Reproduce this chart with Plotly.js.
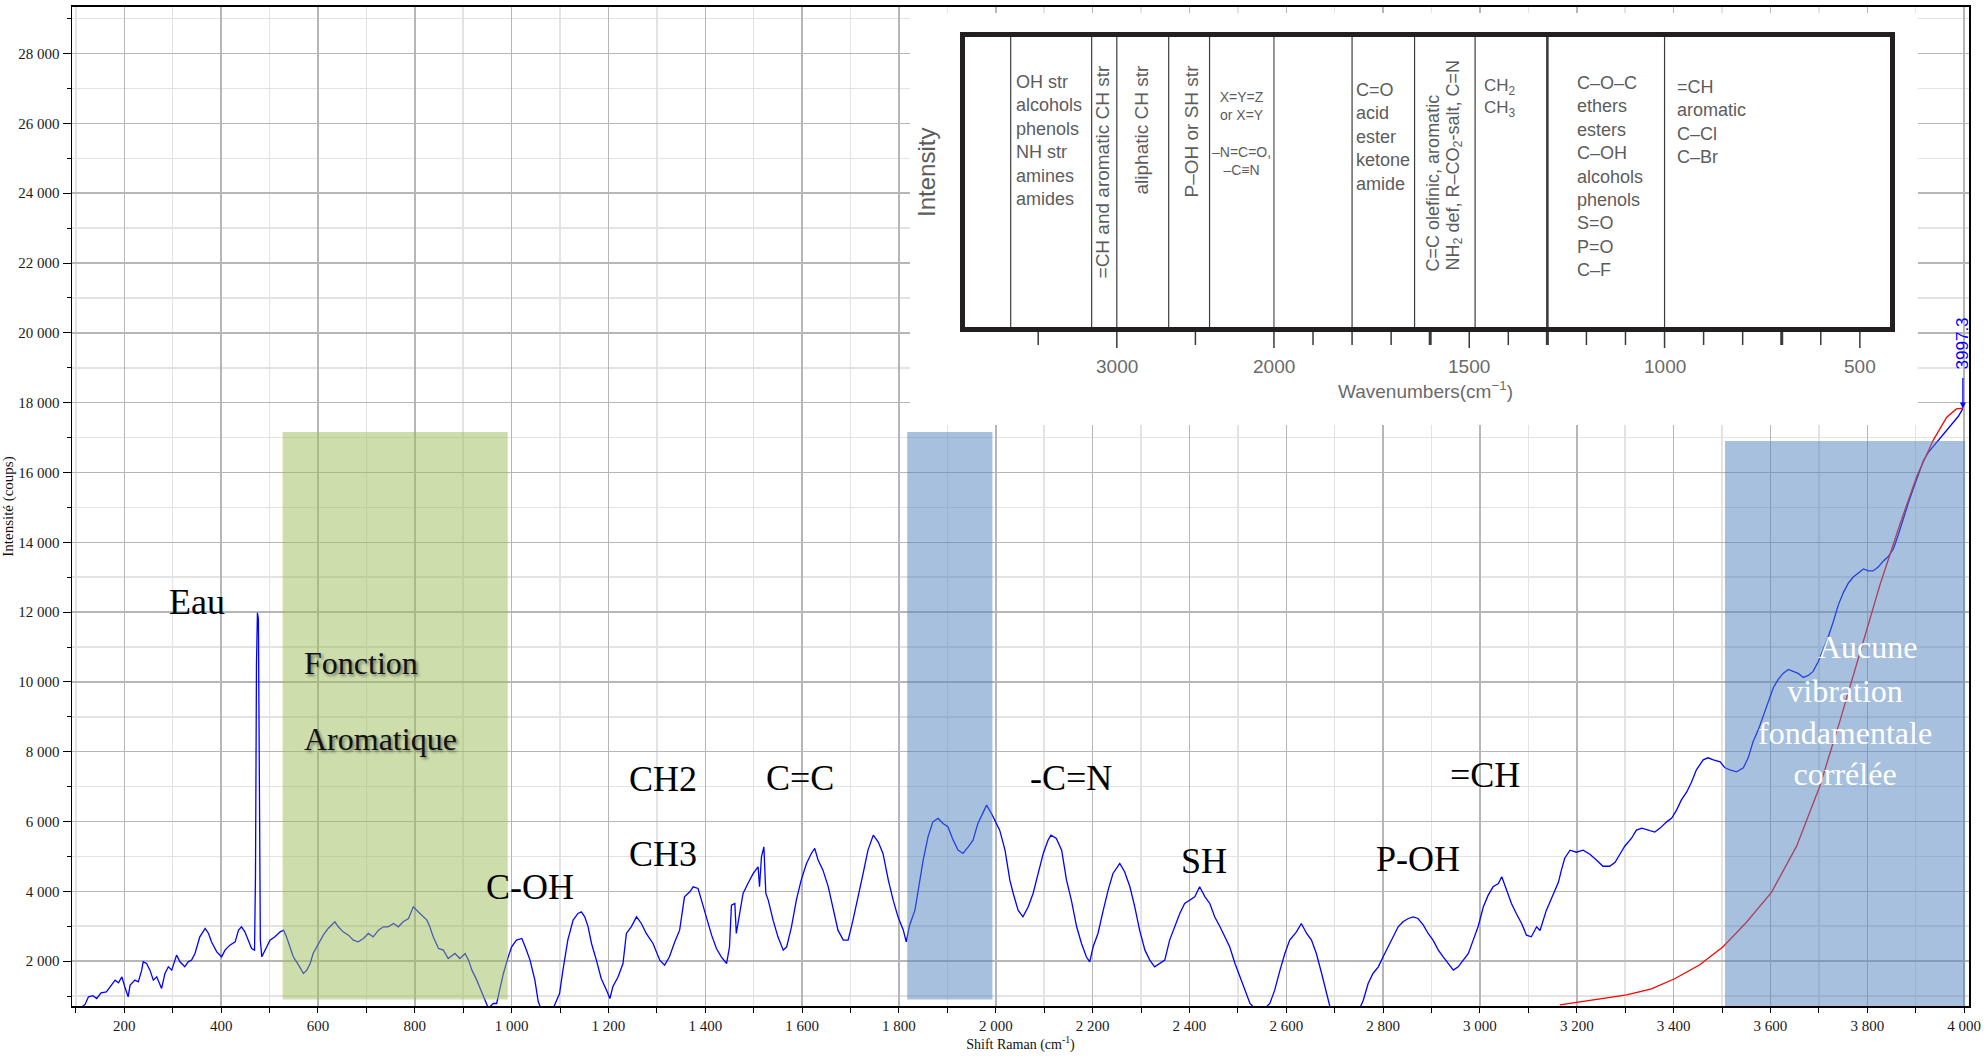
<!DOCTYPE html>
<html>
<head>
<meta charset="utf-8">
<script src="https://cdn.plot.ly/plotly-3.0.1.min.js"></script>
<style>
  html, body { margin: 0; padding: 0; background: #ffffff; }
  #chart { width: 1986px; height: 1057px; }
</style>
</head>
<body>
<div id="chart"></div>
<script>
// ---- Raman spectrum: shift (cm-1) and intensity (counts) ----
const ramanShift = [
  100,112,119,126,135,143,152,163,172,181,
  188,195,201,208,212,222,229,236,239,246,
  253,260,267,277,284,291,298,308,315,325,
  332,339,346,356,367,374,380,391,401,408,
  418,429,436,442,449,456,463,469,471,473,
  475,477,479,481,484,491,501,511,522,529,
  535,542,549,560,570,577,584,590,601,611,
  621,635,642,652,663,673,683,694,704,714,
  725,735,745,756,766,776,787,797,807,818,
  825,831,838,849,859,869,883,893,904,911,
  918,928,935,945,952,962,969,976,983,993,
  1000,1010,1021,1028,1038,1048,1055,1062,1080,1093,
  1099,1106,1116,1127,1137,1144,1151,1158,1165,1175,
  1185,1196,1203,1209,1220,1230,1237,1247,1258,1268,
  1278,1292,1306,1316,1326,1337,1347,1357,1368,1375,
  1385,1392,1402,1413,1423,1433,1444,1450,1454,1461,
  1464,1471,1478,1488,1499,1509,1512,1516,1521,1525,
  1530,1540,1550,1561,1568,1578,1588,1598,1609,1619,
  1626,1633,1643,1654,1664,1674,1685,1695,1705,1716,
  1726,1736,1747,1757,1767,1778,1788,1798,1809,1815,
  1822,1833,1843,1850,1860,1870,1881,1891,1901,1912,
  1922,1932,1943,1953,1963,1974,1981,1991,2001,2008,
  2019,2029,2036,2046,2056,2067,2077,2087,2098,2108,
  2114,2125,2136,2146,2156,2167,2177,2187,2194,2201,
  2211,2222,2232,2242,2256,2266,2277,2287,2297,2308,
  2318,2328,2339,2349,2359,2370,2380,2390,2401,2411,
  2421,2432,2442,2452,2463,2473,2483,2494,2504,2514,
  2525,2535,2552,2566,2576,2587,2597,2607,2621,2631,
  2642,2652,2662,2673,2683,2690,2720,2750,2759,2769,
  2779,2790,2800,2810,2821,2831,2841,2852,2862,2872,
  2883,2893,2903,2914,2924,2934,2945,2955,2965,2976,
  2986,2996,3007,3017,3027,3038,3045,3055,3065,3075,
  3086,3096,3106,3117,3124,3137,3151,3162,3168,3175,
  3186,3199,3213,3227,3241,3254,3268,3279,3289,3299,
  3313,3323,3334,3347,3361,3372,3385,3396,3406,3416,
  3427,3437,3447,3461,3471,3482,3496,3506,3516,3530,
  3544,3554,3564,3575,3585,3595,3606,3616,3626,3637,
  3647,3657,3668,3678,3688,3699,3709,3719,3730,3740,
  3750,3761,3771,3781,3792,3802,3812,3823,3833,3843,
  3854,3864,3874,3885,3895,3905,3916,3926,3936,3947,
  3957,3967,3978,3988,3997.3
];
const intensity = [
  560,700,760,978,1010,930,1090,1121,1280,1456,
  1380,1551,1265,978,1312,1456,1408,1742,1981,1933,
  1742,1456,1551,1217,1647,1838,1742,2172,1981,1838,
  1981,2029,2220,2697,2936,2793,2554,2267,2124,2315,
  2458,2554,2888,2984,2840,2602,2363,2315,4500,10500,
  11980,11800,7000,2600,2124,2315,2602,2697,2840,2888,
  2697,2411,2124,1885,1647,1742,1933,2220,2506,2745,
  2936,3127,2984,2840,2745,2602,2554,2650,2793,2697,
  2888,2984,2984,3079,2984,3127,3222,3557,3414,3270,
  3175,2984,2697,2363,2315,2076,2220,2076,2220,2029,
  1742,1456,1217,882,650,787,787,1217,1647,2124,
  2411,2602,2650,2411,2029,1456,835,600,450,882,
  1074,1742,2602,3175,3366,3414,3270,2984,2506,2029,
  1503,1169,930,1265,1551,1933,2793,2984,3270,3079,
  2793,2506,2029,1885,2124,2554,2888,3843,3987,4130,
  4082,3748,3270,2745,2363,2124,1933,2411,3605,3652,
  2793,3366,3939,4225,4512,4703,4130,4990,5276,3939,
  3748,3175,2697,2315,2411,2984,3748,4321,4798,5085,
  5228,4894,4607,4130,3461,2888,2602,2602,3175,3843,
  4512,5181,5610,5419,5085,4321,3748,3270,2888,2554,
  3031,3461,4321,4894,5562,5992,6088,5945,5849,5467,
  5181,5085,5276,5467,5945,6279,6470,6231,5945,5754,
  5181,4321,3939,3461,3270,3557,3939,4512,5085,5467,
  5610,5515,5180,4321,3748,2984,2506,2124,1981,2411,
  2793,3461,4034,4512,4798,4560,4130,3557,2888,2315,
  2029,1838,1933,2029,2602,2984,3366,3652,3748,3843,
  4130,3843,3652,3270,2984,2697,2411,1933,1551,1169,
  787,650,600,787,1169,1742,2220,2602,2840,3079,
  2793,2602,2220,1647,1074,700,300,600,882,1360,
  1647,1838,2124,2411,2697,2984,3127,3222,3270,3222,
  3031,2793,2602,2315,2124,1933,1742,1838,2029,2220,
  2602,2984,3557,3891,4130,4225,4416,4034,3652,3366,
  3079,2745,2697,2984,2877,3453,3911,4258,4602,4948,
  5178,5120,5178,5063,4891,4719,4719,4834,5063,5292,
  5521,5754,5811,5754,5696,5811,5983,6097,6327,6619,
  6848,7135,7481,7768,7825,7768,7711,7539,7481,7424,
  7539,7825,8286,8633,9034,9438,9840,10071,10243,10358,
  10301,10243,10129,10186,10301,10590,10934,11281,11739,12200,
  12544,12834,13005,13123,13238,13180,13180,13295,13467,13582,
  13814,14215,14676,15137,15539,15943,16344,16576,16748,16920,
  17093,17265,17437,17610,17830
];

// ---- fluorescence background curve ----
const fitShift = [3165,3203,3253,3303,3354,3402,3454,3502,3550,3602,3654,3702,3743,3785,3826,3867,3902,3936,3964,3984,3997.3];
const fitIntensity = [748,828,920,1034,1206,1496,1897,2415,3106,3971,5295,7020,8862,10819,12776,14504,15885,16920,17581,17819,17840];
const endShift = 3997.3;
const endIntensity = 17830;

// ---- shaded spectral zones ----
const zoneStart  = [527, 1817, 3506];
const zoneEnd    = [992, 1993, 4002];
const zoneBottom = [903, 903, 600];
const zoneTop    = [17158, 17158, 16900];

// ---- band labels on the spectrum ----
const bandLabels = ['Eau', 'C-OH', 'CH2', 'CH3', 'C=C', '-C=N', 'SH', 'P-OH', '=CH'];

// ---- IR correlation table (wavenumbers, cm-1) ----
const tableEdges   = [4000, 3675, 3160, 3000, 2670, 2410, 2000, 1800, 1640, 1485, 1300, 1000, 410];
const irLabelTicks = [3000, 2000, 1500, 1000, 500];
const irSmallTicks = [3500, 2500, 1900, 1800, 1700, 1600, 1400, 1300, 1200, 1100, 900, 800, 700, 600];
const irHeavyTicks = [1600, 1300, 700];

// ---------------------------------------------------------------
const L = 72, R = 17, T = 7, B = 51;
const W = 1986 - L - R, H = 1057 - T - B;
const px = v => (v - L) / W;          // page x -> paper fraction
const py = v => (T + H - v) / H;      // page y -> paper fraction
const ty = v => (332 - v) / 300;      // page y -> inset table height fraction
const irAxis = wn => (wn > 2000 ? 'x2' : 'x3');

const serif = 'Liberation Serif, Times New Roman, serif';
const sans = 'Liberation Sans, Arial, sans-serif';
const tableGrey = '#5c5c5c';

const traces = [
  {
    x: ramanShift, y: intensity, type: 'scatter', mode: 'lines',
    line: { color: '#0000ff', width: 1.3 }, hoverinfo: 'skip'
  },
  {
    x: fitShift, y: fitIntensity, type: 'scatter', mode: 'lines',
    line: { color: '#ff0000', width: 1.3 }, hoverinfo: 'skip'
  }
];

const shapes = [];
const zoneFill = ['rgba(155,187,89,0.5)', 'rgba(79,129,189,0.5)', 'rgba(79,129,189,0.5)'];
zoneStart.forEach((x0, i) => {
  shapes.push({
    type: 'rect', xref: 'x', yref: 'y', layer: 'above',
    x0: x0, x1: zoneEnd[i], y0: zoneBottom[i], y1: zoneTop[i],
    fillcolor: zoneFill[i], line: { width: 0 }
  });
});

// inset panel background
shapes.push({
  type: 'rect', xref: 'paper', yref: 'paper', layer: 'above',
  x0: px(910), x1: px(1918), y0: py(425), y1: py(13),
  fillcolor: '#ffffff', line: { width: 0 }
});
// column separators of the table
tableEdges.slice(1, -1).forEach(wn => {
  shapes.push({
    type: 'line', xref: wn >= 2000 ? 'x2' : 'x3', yref: 'y2', layer: 'above',
    x0: wn, x1: wn, y0: 0, y1: 1,
    line: { color: '#3d3d3d', width: wn === 1300 ? 2.6 : 1.2 }
  });
});
// table frame
shapes.push({
  type: 'rect', xref: 'paper', yref: 'paper', layer: 'above',
  x0: px(962.5), x1: px(1892.5), y0: py(329.5), y1: py(34.5),
  fillcolor: 'rgba(0,0,0,0)', line: { color: '#231f20', width: 5 }
});
// wavenumber ticks under the table
irLabelTicks.forEach(wn => {
  shapes.push({
    type: 'line', xref: wn >= 2000 && wn !== 2000 ? 'x2' : 'x3', yref: 'paper', layer: 'above',
    x0: wn, x1: wn, y0: py(332), y1: py(348),
    line: { color: '#3a3a3a', width: 1.5 }
  });
});
irSmallTicks.forEach(wn => {
  shapes.push({
    type: 'line', xref: irAxis(wn), yref: 'paper', layer: 'above',
    x0: wn, x1: wn, y0: py(332), y1: py(345),
    line: { color: '#3a3a3a', width: irHeavyTicks.includes(wn) ? 3 : 1.5 }
  });
});

const annotations = [];
// band labels on the spectrum
const bandPos = [
  [350, 12298, 'center'], [943, 4120, 'left'], [1238, 7215, 'left'], [1238, 5066, 'left'],
  [1521, 7244, 'left'], [2066, 7244, 'left'], [2378, 4865, 'left'], [2781, 4923, 'left'],
  [2934, 7330, 'left']
];
bandLabels.forEach((t, i) => {
  annotations.push({
    x: bandPos[i][0], y: bandPos[i][1], xref: 'x', yref: 'y', text: t,
    showarrow: false, xanchor: bandPos[i][2], yanchor: 'middle',
    font: { family: serif, size: 36, color: '#000000' }
  });
});
// aromatic zone caption (with soft shadow)
[['Fonction', 10539], ['Aromatique', 8370]].forEach(([t, y]) => {
  annotations.push({
    x: 568, y: y, xref: 'x', yref: 'y', text: t, showarrow: false,
    xanchor: 'left', yanchor: 'middle',
    font: { family: serif, size: 32, color: '#111111', shadow: '2px 2px 3px rgba(0,0,0,0.45)' }
  });
});
// caption inside the high-shift zone
annotations.push({
  x: 3801, y: 10997, xref: 'x', yref: 'y', text: 'Aucune', showarrow: false,
  xanchor: 'center', yanchor: 'middle',
  font: { family: serif, size: 32, color: '#ffffff' }
});
annotations.push({
  x: 3754, y: 8562, xref: 'x', yref: 'y', text: 'vibration<br>fondamentale<br>corrélée',
  showarrow: false, xanchor: 'center', yanchor: 'middle', align: 'center',
  font: { family: serif, size: 32, color: '#ffffff' }
});
// end-of-scan marker
annotations.push({
  x: endShift, y: endIntensity, xref: 'x', yref: 'y', text: '',
  showarrow: true, ax: 0, ay: -32, arrowhead: 2, arrowsize: 1, arrowwidth: 1.2,
  arrowcolor: '#0000ff', standoff: 0
});
annotations.push({
  x: endShift, y: endIntensity, xref: 'x', yref: 'y', text: String(endShift),
  showarrow: false, textangle: -90, xanchor: 'center', yanchor: 'bottom', yshift: 37,
  font: { family: sans, size: 17, color: '#0000ff' }
});

// inset: axis captions
annotations.push({
  x: px(926), y: py(173), xref: 'paper', yref: 'paper', text: 'Intensity',
  showarrow: false, textangle: -90, xanchor: 'center', yanchor: 'middle',
  font: { family: sans, size: 24, color: tableGrey }
});
annotations.push({
  x: px(1425), y: py(390), xref: 'paper', yref: 'paper', text: 'Wavenumbers(cm<sup>−1</sup>)',
  showarrow: false, xanchor: 'center', yanchor: 'middle',
  font: { family: sans, size: 19, color: '#6a6a6a' }
});
irLabelTicks.forEach(wn => {
  annotations.push({
    x: wn, xref: wn > 2000 ? 'x2' : 'x3', y: py(366), yref: 'paper', text: String(wn),
    showarrow: false, xanchor: 'center', yanchor: 'middle',
    font: { family: sans, size: 19, color: '#6a6a6a' }
  });
});
// inset: table cells
const cellText = [
  { x: 3675, text: 'OH str<br>alcohols<br>phenols<br>NH str<br>amines<br>amides', mid: 140.5, shift: 3 },
  { x: 2205, text: 'X=Y=Z<br>or X=Y<br> <br>–N=C=O,<br>–C≡N', mid: 133.5, center: true, size: 14 },
  { x: 1800, text: 'C=O<br>acid<br>ester<br>ketone<br>amide', mid: 137, shift: 2 },
  { x: 1485, text: 'CH<sub>2</sub><br>CH<sub>3</sub>', mid: 97.5, shift: 7, size: 17 },
  { x: 1230, text: 'C–O–C<br>ethers<br>esters<br>C–OH<br>alcohols<br>phenols<br>S=O<br>P=O<br>C–F', mid: 176 },
  { x: 1000, text: '=CH<br>aromatic<br>C–Cl<br>C–Br', mid: 121.5, shift: 10 }
];
cellText.forEach(c => {
  annotations.push({
    x: c.x, xref: irAxis(c.x), y: ty(c.mid), yref: 'y2', text: c.text,
    showarrow: false, xanchor: c.center ? 'center' : 'left', yanchor: 'middle',
    align: c.center ? 'center' : 'left', xshift: c.shift || 0,
    font: { family: sans, size: c.size || 18, color: tableGrey }
  });
});
const cellVertical = [
  { x: 3088, text: '=CH and aromatic CH str', top: 63 },
  { x: 2840, text: 'aliphatic CH str', top: 63 },
  { x: 2528, text: 'P–OH or SH str', top: 63 },
  { x: 1593, text: 'C=C olefinic, aromatic', bottom: 273 },
  { x: 1539, text: 'NH<sub>2</sub> def, R–CO<sub>2</sub>-salt, C=N', bottom: 273 }
];
cellVertical.forEach(c => {
  annotations.push({
    x: c.x, xref: irAxis(c.x), y: ty(c.top !== undefined ? c.top : c.bottom), yref: 'y2',
    text: c.text, showarrow: false, textangle: -90,
    xanchor: 'center', yanchor: c.top !== undefined ? 'top' : 'bottom',
    font: { family: sans, size: c.bottom ? 18 : 19, color: tableGrey }
  });
});

const layout = {
  width: 1986, height: 1057,
  margin: { l: L, r: R, t: T, b: B, pad: 0 },
  paper_bgcolor: '#ffffff', plot_bgcolor: '#ffffff',
  separators: ', ',
  showlegend: false, hovermode: false,
  font: { family: serif, color: '#111111' },
  xaxis: {
    range: [92, 4010], tick0: 0, dtick: 200, separatethousands: true, exponentformat: 'none',
    ticks: 'outside', ticklen: 5, tickcolor: '#000', tickwidth: 1,
    tickfont: { family: serif, size: 15, color: '#1a1a1a' },
    showgrid: true, gridcolor: '#b6b6b6', gridwidth: 1.5,
    minor: { dtick: 100, tick0: 0, ticks: 'outside', ticklen: 5, tickcolor: '#000',
             showgrid: true, gridcolor: '#e3e3e3', gridwidth: 1.5 },
    showline: true, linecolor: '#000', linewidth: 2, mirror: true, zeroline: false,
    title: { text: 'Shift Raman (cm<sup>-1</sup>)', font: { family: serif, size: 14, color: '#111' }, standoff: 6 }
  },
  yaxis: {
    range: [715, 29335], tick0: 0, dtick: 2000, separatethousands: true, exponentformat: 'none',
    ticks: 'outside', ticklen: 8, tickcolor: '#000', tickwidth: 1,
    tickfont: { family: serif, size: 15, color: '#1a1a1a' },
    showgrid: true, gridcolor: '#b6b6b6', gridwidth: 1.5,
    minor: { dtick: 1000, tick0: 0, ticks: 'outside', ticklen: 4, tickcolor: '#000',
             showgrid: true, gridcolor: '#e3e3e3', gridwidth: 1.5 },
    showline: true, linecolor: '#000', linewidth: 1.5, mirror: true, zeroline: false,
    title: { text: 'Intensité (coups)', font: { family: serif, size: 15, color: '#111' }, standoff: 6 }
  },
  // scales of the inset correlation table (compressed above 2000 cm-1)
  xaxis2: { domain: [px(959.6), px(1274.8)], range: [4000, 1995], anchor: 'y2', visible: false, fixedrange: true },
  xaxis3: { domain: [px(1272), px(1895)], range: [2005, 410], anchor: 'y2', visible: false, fixedrange: true },
  yaxis2: { domain: [py(332), py(32)], range: [0, 1], anchor: 'x2', visible: false, fixedrange: true },
  shapes: shapes,
  annotations: annotations
};

Plotly.newPlot('chart', traces, layout, { staticPlot: true, displayModeBar: false });
</script>
</body>
</html>
